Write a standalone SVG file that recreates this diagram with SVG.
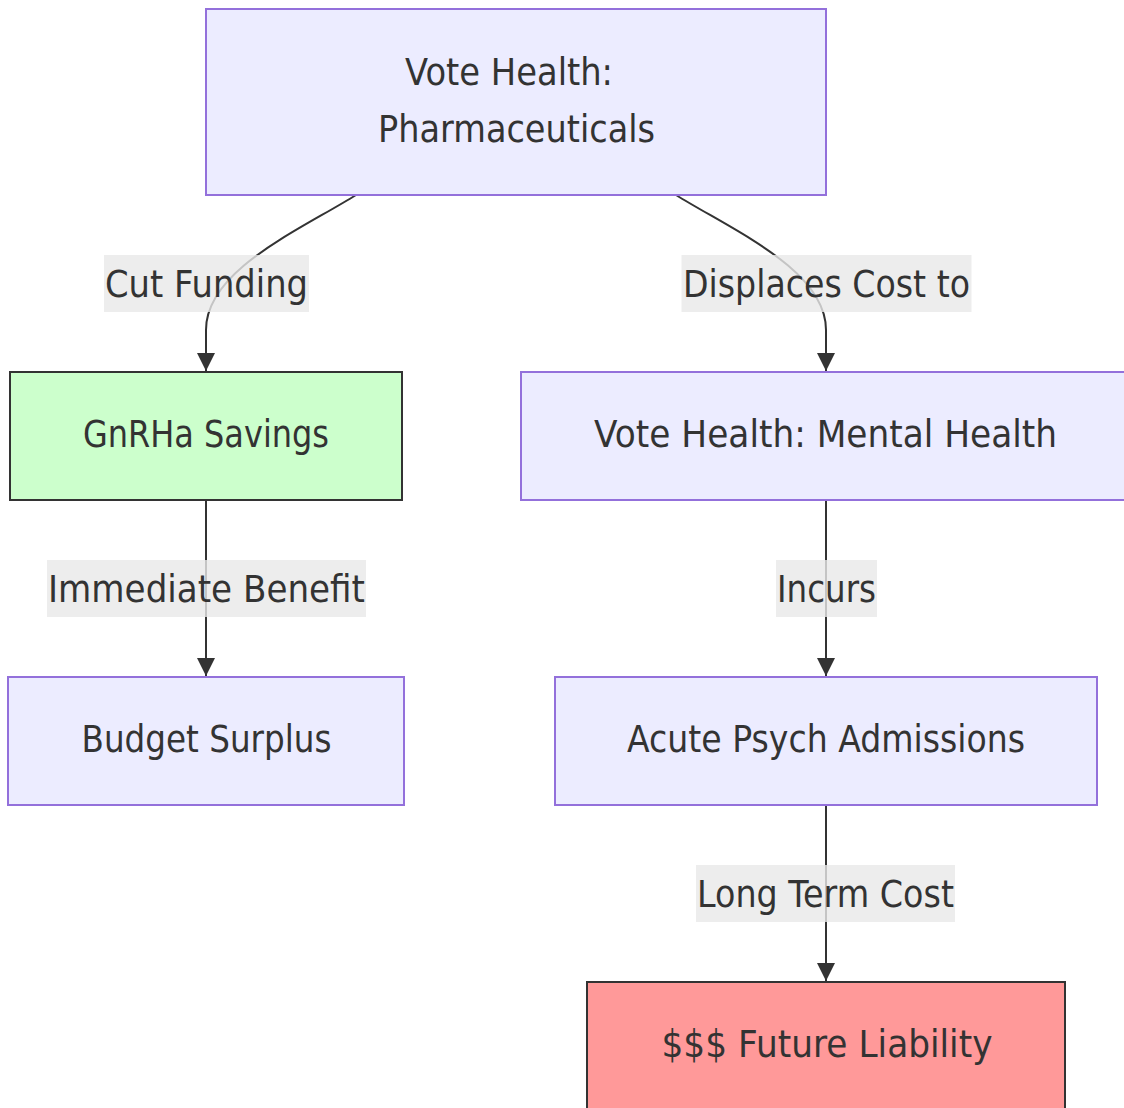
<svg xmlns="http://www.w3.org/2000/svg" width="1124" height="1108" viewBox="0 0 1124 1108">
<style>
.node rect{stroke-width:2}
.default rect{fill:#ECECFF;stroke:#9370DB}
.green rect{fill:#ccffcc;stroke:#333333}
.red rect{fill:#ff9999;stroke:#333333}
text{font-family:"DejaVu Sans","Liberation Sans",sans-serif;font-size:37px;fill:#333333}
.edge{fill:none;stroke:#333333;stroke-width:2;marker-end:url(#arrow)}
.lbl rect{fill:#e8e8e8;fill-opacity:0.8}
</style>
<defs>
<marker id="arrow" viewBox="0 0 10 10" refX="10" refY="5" markerUnits="userSpaceOnUse" markerWidth="18" markerHeight="18" orient="auto">
<path d="M0,0 L10,5 L0,10 z" fill="#333333"/>
</marker>
</defs>
<rect width="1124" height="1108" fill="#ffffff"/>
<g id="connectors">
<path class="edge" d="M356,195 C300,230 206,270 206,330 L206,371"/>
<path class="edge" d="M676,195 C732,230 826,270 826,330 L826,371"/>
<path class="edge" d="M206,500 L206,676"/>
<path class="edge" d="M826,500 L826,676"/>
<path class="edge" d="M826,805 L826,981"/>
<g class="lbl">
<rect x="104" y="255" width="205" height="57"/>
<text x="105" y="297" textLength="203" lengthAdjust="spacingAndGlyphs">Cut Funding</text>
<rect x="681.5" y="255" width="290" height="57"/>
<text x="683" y="297" textLength="287" lengthAdjust="spacingAndGlyphs">Displaces Cost to</text>
<rect x="47" y="560" width="319" height="57"/>
<text x="48" y="602" textLength="317" lengthAdjust="spacingAndGlyphs">Immediate Benefit</text>
<rect x="776" y="560" width="101" height="57"/>
<text x="777" y="602" textLength="99" lengthAdjust="spacingAndGlyphs">Incurs</text>
<rect x="696" y="865" width="259" height="57"/>
<text x="697" y="907" textLength="257" lengthAdjust="spacingAndGlyphs">Long Term Cost</text>
</g>
</g>
<g id="pharma" class="node default">
<rect x="206" y="9" width="620" height="186"/>
<text x="405" y="85" textLength="208" lengthAdjust="spacingAndGlyphs">Vote Health:</text>
<text x="378" y="142" textLength="277" lengthAdjust="spacingAndGlyphs">Pharmaceuticals</text>
</g>
<g id="gnrha" class="node green">
<rect x="10" y="372" width="392" height="128"/>
<text x="83" y="447" textLength="246" lengthAdjust="spacingAndGlyphs">GnRHa Savings</text>
</g>
<g id="mental" class="node default">
<rect x="521" y="372" width="610" height="128"/>
<text x="594" y="447" textLength="463" lengthAdjust="spacingAndGlyphs">Vote Health: Mental Health</text>
</g>
<g id="budget" class="node default">
<rect x="8" y="677" width="396" height="128"/>
<text x="81.5" y="752" textLength="250" lengthAdjust="spacingAndGlyphs">Budget Surplus</text>
</g>
<g id="acute" class="node default">
<rect x="555" y="677" width="542" height="128"/>
<text x="627" y="752" textLength="398" lengthAdjust="spacingAndGlyphs">Acute Psych Admissions</text>
</g>
<g id="liability" class="node red">
<rect x="587" y="982" width="478" height="130"/>
<text x="661.5" y="1057" textLength="331" lengthAdjust="spacingAndGlyphs">$$$ Future Liability</text>
</g>
</svg>
